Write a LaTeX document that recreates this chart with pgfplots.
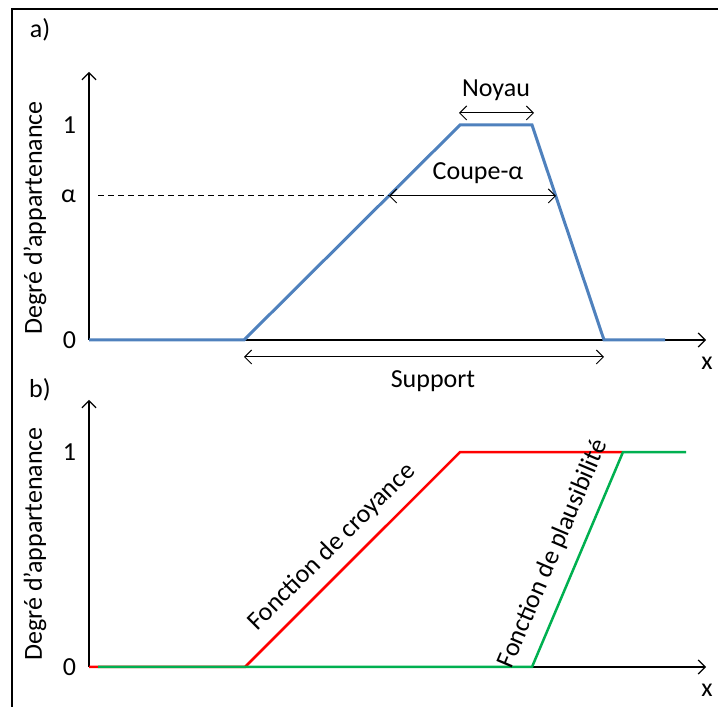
\documentclass[border=0pt]{standalone}
\usepackage{pgfplots}
\pgfplotsset{compat=1.18}
\usepackage{fontspec}
\setmainfont{Carlito}
\usetikzlibrary{arrows.meta}
\definecolor{cblue}{HTML}{4F81BD}
\definecolor{cred}{HTML}{FF0000}
\definecolor{cgreen}{HTML}{00B050}
\begin{document}
\begin{tikzpicture}[font=\fontsize{13}{15}\selectfont,
  barb/.style={line width=0.5pt,{Straight Barb[length=3.5pt,width=7pt]}-{Straight Barb[length=3.5pt,width=7pt]}}]
\path[use as bounding box] (0,0) rectangle (359pt,353.5pt);
\draw[line width=0.75pt] (6pt,0pt) -- (6pt,349pt) -- (359pt,349pt);
\pgfplotsset{
  myaxis/.style={scale only axis, axis lines=left, width=308.5pt,
    xmin=0, xmax=6.17, ymin=0, clip=false, xtick=\empty,
    major tick length=0pt, anchor=south west,
    axis line style={line width=0.6pt,-{Straight Barb[length=3.5pt,width=7pt]}},
    yticklabel style={xshift=-3pt, font=\fontsize{13}{15}\selectfont}}
}
% panel a
\begin{axis}[myaxis, at={(44.5pt,183.5pt)}, height=134pt, ymax=1.2465,
  ytick={0,0.67,1}, yticklabels={0,α,1}]
\addplot[cblue, line width=1.5pt] coordinates {(0,0) (1.55,0) (3.71,1) (4.43,1) (5.15,0) (5.76,0)};
\draw[dashed, dash pattern=on 3pt off 2pt, line width=0.5pt] (axis cs:0.09,0.67) -- (axis cs:3.0,0.67);
\draw[barb] (axis cs:3.0,0.67) -- (axis cs:4.67,0.67);
\draw[barb] (axis cs:3.70,1.056) -- (axis cs:4.45,1.056);
\draw[barb] (axis cs:1.55,-0.079) -- (axis cs:5.15,-0.079);
\node at (axis cs:4.07,1.163) {Noyau};
\node at (axis cs:3.89,0.777) {Coupe-α};
\node at (axis cs:3.44,-0.19) {Support};
\node at (axis cs:6.18,-0.107) {x};
\end{axis}
% panel b
\begin{axis}[myaxis, at={(44.5pt,20pt)}, height=133.5pt, ymax=1.242,
  ytick={0,1}, yticklabels={0,1}]
\addplot[cred, line width=1.25pt] coordinates {(0,0) (1.56,0) (3.71,1) (5.33,1)};
\addplot[cgreen, line width=1.25pt] coordinates {(0.09,0) (4.43,0) (5.34,1) (5.97,1)};
\node[rotate=45] at (axis cs:2.43,0.558) {Fonction de croyance};
\node[rotate=67] at (axis cs:4.64,0.526) {Fonction de plausibilité};
\node at (axis cs:6.18,-0.107) {x};
\end{axis}
\node[rotate=90] at (17.5pt,244.5pt) {Degré d’appartenance};
\node[rotate=90] at (17.5pt,81.5pt) {Degré d’appartenance};
\node at (20pt,338.5pt) {a)};
\node at (20pt,158.5pt) {b)};
\end{tikzpicture}
\end{document}
